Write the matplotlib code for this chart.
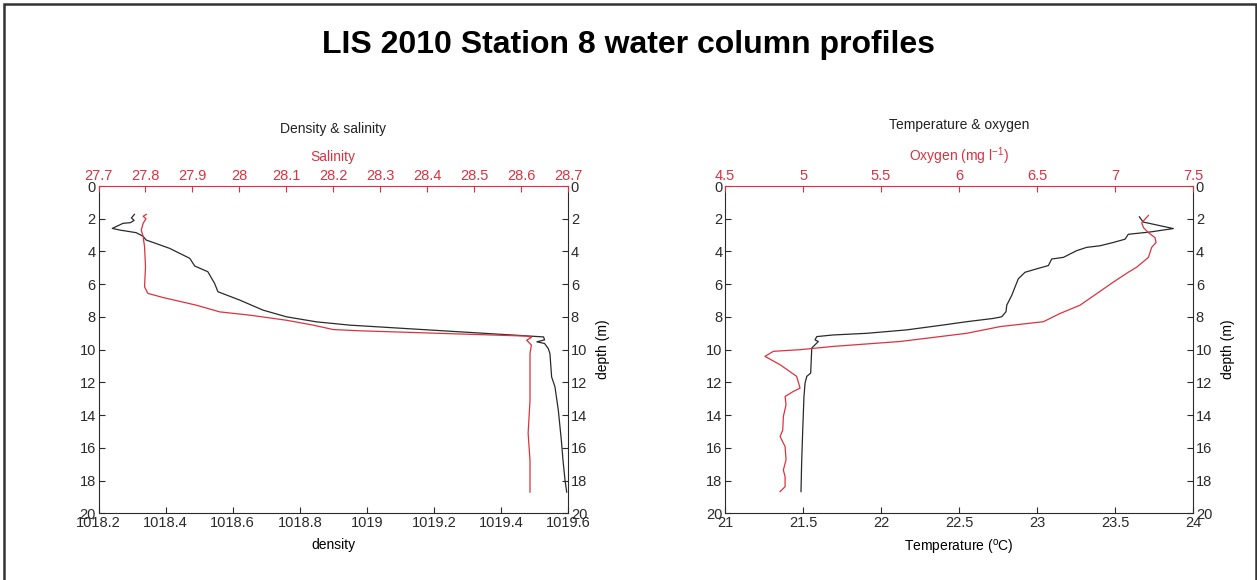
import numpy as np
import matplotlib.pyplot as plt
from matplotlib.patches import Rectangle

plt.rcParams['font.family'] = ['Liberation Sans', 'DejaVu Sans']

RED = '#dc3240'
INK = '#2a2a2a'

# density profile (kg m-3) vs depth (m)
dens_z = [1.73, 1.95, 2.1, 2.24, 2.28, 2.59, 2.69, 2.85, 3.06, 3.30, 3.81, 4.42, 4.89,
          5.24, 5.95, 6.46, 6.97, 7.58, 7.99, 8.30, 8.50, 9.22, 9.40, 9.52, 9.62, 9.93,
          10.23, 11.66, 12.27, 13.70, 15.53, 16.76, 17.98, 18.70]
density = [1018.307, 1018.298, 1018.306, 1018.295, 1018.273, 1018.241, 1018.263, 1018.312,
           1018.332, 1018.342, 1018.412, 1018.472, 1018.487, 1018.526, 1018.546, 1018.556,
           1018.621, 1018.690, 1018.760, 1018.850, 1018.949, 1019.527, 1019.530, 1019.507,
           1019.530, 1019.541, 1019.546, 1019.551, 1019.561, 1019.571, 1019.580, 1019.585,
           1019.591, 1019.596]

# salinity profile
sal_z = [1.73, 1.85, 2.0, 2.28, 2.69, 3.10, 3.71, 4.93, 6.16, 6.56, 6.81, 7.28, 7.69,
         7.89, 8.20, 8.50, 8.77, 8.85, 9.17, 9.25, 9.42, 9.72, 10.23, 13.1, 15.1, 16.8, 18.70]
salinity = [27.802, 27.795, 27.801, 27.795, 27.791, 27.795, 27.798, 27.800, 27.798,
            27.805, 27.837, 27.908, 27.958, 28.022, 28.100, 28.157, 28.200, 28.260,
            28.612, 28.622, 28.612, 28.622, 28.619, 28.619, 28.615, 28.619, 28.619]

# temperature profile (deg C)
temp_z = [1.88, 2.2, 2.60, 2.81, 2.95, 3.25, 3.45, 3.65, 3.75, 3.95, 4.36, 4.46, 4.86,
          5.06, 5.27, 5.67, 6.17, 6.68, 7.28, 7.68, 7.99, 8.09, 8.29, 8.49, 8.79, 9.00,
          9.10, 9.20, 9.40, 9.50, 9.70, 9.90, 11.43, 11.63, 12.04, 12.86, 14.9, 16.94, 18.67]
temperature = [23.656, 23.680, 23.874, 23.724, 23.585, 23.564, 23.489, 23.404, 23.318,
               23.254, 23.169, 23.094, 23.073, 22.998, 22.923, 22.880, 22.859, 22.838,
               22.806, 22.801, 22.774, 22.720, 22.549, 22.400, 22.165, 21.908, 21.694,
               21.588, 21.577, 21.598, 21.577, 21.556, 21.549, 21.524, 21.513, 21.506,
               21.498, 21.491, 21.487]

# dissolved oxygen (mg/l)
oxy_z = [1.80, 2.24, 2.54, 2.85, 3.15, 3.45, 3.75, 4.36, 4.96, 5.27, 5.87, 6.58, 7.28,
         7.79, 8.29, 8.59, 9.00, 9.50, 9.80, 10.0, 10.10, 10.41, 10.92, 11.63, 12.35,
         12.55, 12.86, 13.37, 14.08, 14.9, 15.31, 15.92, 16.73, 17.35, 17.76, 18.37, 18.67]
oxygen = [7.214, 7.171, 7.182, 7.214, 7.256, 7.263, 7.235, 7.214, 7.139, 7.085, 6.989,
          6.882, 6.776, 6.647, 6.541, 6.263, 6.049, 5.622, 5.194, 4.981, 4.810, 4.756,
          4.853, 4.959, 4.981, 4.938, 4.885, 4.891, 4.874, 4.870, 4.853, 4.885, 4.891,
          4.874, 4.885, 4.885, 4.853]

depth_ticks = np.arange(0, 21, 2)


def profile_panel(rect, xb, yb, xb_lim, xb_ticks, xb_label,
                  xt, yt, xt_lim, xt_ticks, xt_label, title):
    ax = fig.add_axes(rect)
    ax.plot(xb, yb, color=INK, lw=0.9)
    ax.set_xlim(*xb_lim)
    ax.set_ylim(20, 0)
    ax.set_xticks(xb_ticks)
    ax.set_xticklabels([f'{t:g}' for t in xb_ticks])
    ax.set_yticks(depth_ticks)
    ax.set_xlabel(xb_label, fontsize=10, labelpad=6)
    ax.set_ylabel('depth (m)', fontsize=10, labelpad=6)
    ax.yaxis.set_label_position('right')
    ax.tick_params(direction='in', length=4, width=0.8, colors=INK, labelsize=10.5,
                   left=True, right=True, labelleft=True, labelright=True,
                   top=False, pad=2)
    for s in ['left', 'right', 'bottom']:
        ax.spines[s].set_color(INK)
    ax.spines['top'].set_visible(False)

    ax2 = ax.twiny()
    ax2.plot(xt, yt, color=RED, lw=0.9)
    ax2.set_xlim(*xt_lim)
    ax2.set_ylim(20, 0)
    ax2.set_xticks(xt_ticks)
    ax2.set_xticklabels([f'{t:g}' for t in xt_ticks])
    ax2.tick_params(direction='in', length=4, width=0.8, colors=RED, labelsize=10.5, pad=2)
    ax2.spines['top'].set_color(RED)
    for s in ['left', 'right', 'bottom']:
        ax2.spines[s].set_visible(False)
    ax2.set_xlabel(xt_label, color=RED, fontsize=10, labelpad=6)
    ax2.set_title(title, fontsize=10, color='#222222', pad=12)
    return ax, ax2


fig = plt.figure(figsize=(12.57, 5.8), dpi=100)

profile_panel([0.0784, 0.1149, 0.3735, 0.5644], density, dens_z, (1018.2, 1019.6),
              np.round(np.arange(1018.2, 1019.61, 0.2), 1), 'density',
              salinity, sal_z, (27.7, 28.7), np.round(np.arange(27.7, 28.71, 0.1), 1),
              'Salinity', 'Density & salinity')

profile_panel([0.5768, 0.1149, 0.3723, 0.5644], temperature, temp_z, (21, 24),
              np.arange(21, 24.01, 0.5), r'Temperature ($\mathregular{^o}$C)',
              oxygen, oxy_z, (4.5, 7.5), np.arange(4.5, 7.51, 0.5),
              r'Oxygen (mg l$\mathregular{^{-1}}$)', 'Temperature & oxygen')

fig.text(0.5, 1 - 45 / 580, 'LIS 2010 Station 8 water column profiles',
         ha='center', va='center', fontsize=23, fontweight='bold')

# frame round the whole figure, open at the bottom
fig.patches.append(Rectangle((4 / 1257, -0.05), 1251.5 / 1257, 1.05 - 4 / 580,
                             transform=fig.transFigure, fill=False,
                             edgecolor='#333333', lw=1.8))

fig.savefig('out.png', dpi=100)
